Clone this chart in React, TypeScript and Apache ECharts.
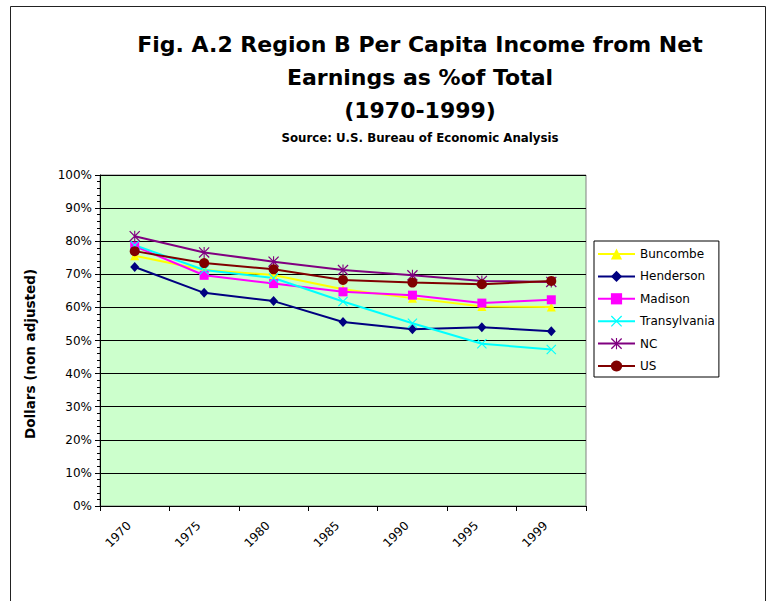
import React, { useEffect, useRef } from "react";
import * as echarts from "echarts";

const years = ["1970", "1975", "1980", "1985", "1990", "1995", "1999"];
const buncombe = [75.6, 71.3, 69.8, 65.5, 62.8, 60.3, 60.1];
const henderson = [72.2, 64.4, 61.9, 55.6, 53.4, 54.0, 52.8];
const madison = [78.5, 69.7, 67.2, 64.7, 63.7, 61.3, 62.3];
const transylvania = [78.8, 71.3, 68.9, 61.8, 55.2, 49.0, 47.3];
const nc = [81.5, 76.6, 73.8, 71.3, 69.7, 68.0, 67.7];
const us = [77.0, 73.4, 71.5, 68.3, 67.5, 67.0, 68.0];

const FONT = "'DejaVu Sans', sans-serif";

const crossPath =
  "path://M0,0.8L0.8,0L10,9.2L9.2,10Z M9.2,0L10,0.8L0.8,10L0,9.2Z";
const starPath =
  "path://M0,0.8L0.8,0L10,9.2L9.2,10Z M9.2,0L10,0.8L0.8,10L0,9.2Z M4.5,0L5.5,0L5.5,10L4.5,10Z";

export default function App() {
  const ref = useRef<HTMLDivElement>(null);
  useEffect(() => {
    if (!ref.current) return;
    const chart = echarts.init(ref.current, undefined, { renderer: "svg" });
    const mk = (
      name: string,
      data: number[],
      color: string,
      symbol: string,
      size: number | number[]
    ) => ({
      name,
      type: "line",
      data,
      symbol,
      symbolSize: size,
      showAllSymbol: true,
      lineStyle: { color, width: 2 },
      itemStyle: { color, borderWidth: 0 },
      emphasis: { disabled: true },
    });
    chart.setOption({
      animation: false,
      backgroundColor: "#ffffff",
      textStyle: { fontFamily: FONT },
      title: [
        {
          text: "Fig. A.2 Region B Per Capita Income from Net\nEarnings as %of Total\n(1970-1999)",
          left: 420,
          top: 28,
          textAlign: "center",
          padding: 0,
          textStyle: {
            fontFamily: FONT,
            fontSize: 22,
            fontWeight: "bold",
            lineHeight: 33,
            color: "#000",
          },
        },
        {
          text: "Source: U.S. Bureau of Economic Analysis",
          left: 420,
          top: 132,
          textAlign: "center",
          padding: 0,
          textStyle: {
            fontFamily: FONT,
            fontSize: 11.8,
            fontWeight: "bold",
            color: "#000",
          },
        },
      ],
      graphic: [
        {
          type: "rect",
          shape: { x: 10.5, y: 6.5, width: 755, height: 620 },
          style: { fill: "none", stroke: "#222", lineWidth: 1 },
          silent: true,
        },
        {
          type: "text",
          x: 30,
          y: 354,
          rotation: Math.PI / 2,
          silent: true,
          style: {
            text: "Dollars (non adjusted)",
            fontFamily: FONT,
            fontSize: 13.5,
            fontWeight: "bold",
            fill: "#000",
            align: "center",
            verticalAlign: "middle",
          },
        },
      ],
      legend: {
        orient: "vertical",
        left: 594,
        top: 241,
        padding: [7, 4, 5, 3],
        itemWidth: 37,
        itemHeight: 14,
        itemGap: 10.4,
        borderColor: "#000",
        borderWidth: 1,
        backgroundColor: "#fff",
        textStyle: { fontFamily: FONT, fontSize: 12, color: "#000" },
        selectedMode: false,
      },
      grid: {
        left: 100,
        right: 186,
        top: 175,
        bottom: 95,
        show: true,
        backgroundColor: "#CCFFCC",
        borderColor: "#808080",
        borderWidth: 1,
        containLabel: false,
      },
      xAxis: {
        type: "category",
        data: years,
        boundaryGap: true,
        axisLine: { show: true, lineStyle: { color: "#000", width: 1 } },
        axisTick: { show: true, length: 5, lineStyle: { color: "#000" } },
        axisLabel: {
          rotate: 45,
          interval: 0,
          margin: 12,
          padding: [0, 8, 0, 0],
          fontSize: 12,
          color: "#000",
          fontFamily: FONT,
        },
        splitLine: { show: false },
      },
      yAxis: {
        type: "value",
        min: 0,
        max: 100,
        interval: 10,
        axisLine: { show: true, lineStyle: { color: "#000", width: 1 } },
        axisTick: { show: true, length: 5, lineStyle: { color: "#000" } },
        minorTick: { show: true, splitNumber: 5, length: 3, lineStyle: { color: "#000" } },
        axisLabel: {
          formatter: "{value}%",
          margin: 8,
          fontSize: 12,
          color: "#000",
          fontFamily: FONT,
        },
        splitLine: { show: true, lineStyle: { color: "#000", width: 1 } },
      },
      series: [
        mk("Buncombe", buncombe, "#FFFF00", "triangle", 9),
        mk("Henderson", henderson, "#000080", "diamond", [9, 10]),
        mk("Madison", madison, "#FF00FF", "rect", 9),
        mk("Transylvania", transylvania, "#00FFFF", crossPath, 10),
        mk("NC", nc, "#800080", starPath, 11),
        mk("US", us, "#800000", "circle", 10),
      ],
    });
    return () => chart.dispose();
  }, []);
  return (
    <div
      ref={ref}
      style={{ position: "fixed", left: 0, top: 0, width: 772, height: 601 }}
    />
  );
}
